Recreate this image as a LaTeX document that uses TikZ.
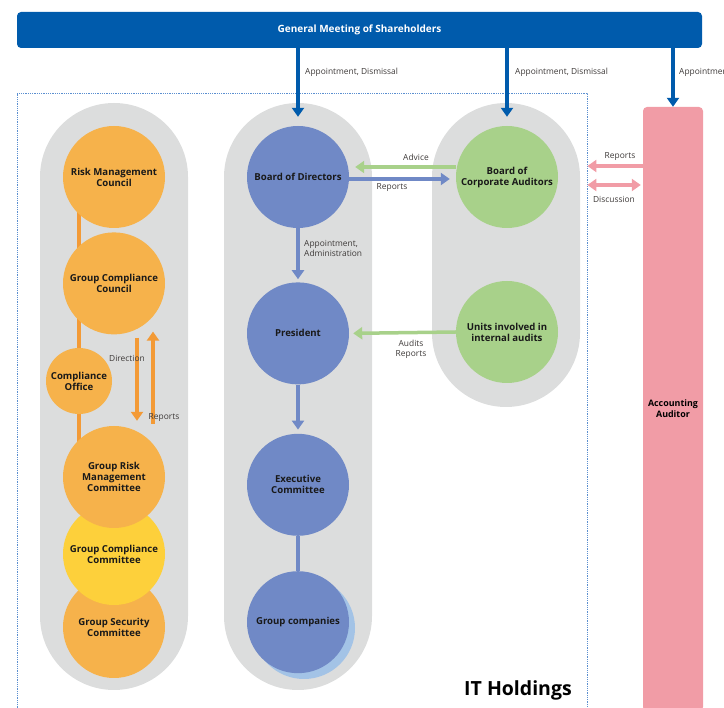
\documentclass[tikz,border=0pt]{standalone}
\usepackage{fontspec}
\setmainfont{Open Sans}
\usetikzlibrary{positioning,arrows.meta,backgrounds}
\definecolor{gmsblue}{HTML}{005BAC}
\definecolor{capgray}{HTML}{DCDDDD}
\definecolor{orgorange}{HTML}{F6B24B}
\definecolor{arrorange}{HTML}{F39A36}
\definecolor{orgyellow}{HTML}{FDD03B}
\definecolor{orgblue}{HTML}{7089C6}
\definecolor{shadeblue}{HTML}{A3C3E6}
\definecolor{orggreen}{HTML}{A8D18A}
\definecolor{orgpink}{HTML}{F19CA6}
\definecolor{framedot}{HTML}{5B8FD0}
\definecolor{labelgray}{HTML}{3E3A39}

\begin{document}
\begin{tikzpicture}
            [x=1pt, y=-1pt,
            every node/.style={inner sep=0pt},
            capsule/.style={fill=capgray, rounded corners=74pt},
            unit/.style={circle, minimum size=102pt, align=center, text=black!90,
                font=\fontsize{9.6}{11}\selectfont\bfseries},
            lbl/.style={text=labelgray, align=center, font=\fontsize{8.4}{10}\selectfont},
            toplbl/.style={lbl, anchor=west},
            tip/.style={-{Triangle[length=9pt, width=12pt]}},
            gmsarrow/.style={draw=gmsblue, line width=3.5pt, tip},
            bluearrow/.style={draw=orgblue, line width=3.5pt, tip},
            greenarrow/.style={draw=orggreen, line width=3.5pt, tip},
            pinkarrow/.style={draw=orgpink, line width=3.5pt, tip},
            orangearrow/.style={draw=arrorange, line width=3.5pt, tip}]
            \useasboundingbox (0,0) rectangle (724,708);
            \clip (0,0) rectangle (724,708);

            \begin{scope}[on background layer]
                \fill[capsule] (40,103) rectangle (188,690);
                \fill[capsule] (224,103) rectangle (372,690);
                \fill[capsule] (432,103) rectangle (580,407);
            \end{scope}

            \node [rounded corners=4pt, fill=gmsblue, minimum width=685pt, minimum height=36pt,
                text=white, font=\fontsize{10}{12}\selectfont\bfseries] (gms) at (359.5,30)
                {General Meeting of Shareholders};
            \node [draw=framedot, densely dotted, line width=0.8pt, minimum width=570pt,
                minimum height=627pt] (itframe) at (302,406.5) {};
            \node [font=\fontsize{19.5}{22}\selectfont\bfseries] (ith) at (518,690) {IT Holdings};

            % compliance and risk column
            \node [unit, fill=orgorange] (rmc) at (114,177) {Risk Management\\Council};
            \node [unit, fill=orgorange, below=4pt of rmc] (gcc) {Group Compliance\\Council};
            \node [unit, fill=orgorange, minimum size=66pt] (co) at (79,381) {Compliance\\Office};
            \node [unit, fill=orgorange] (gsc) at (114,627) {Group Security\\Committee};
            \node [unit, fill=orgyellow] (gccm) at (114,554) {Group Compliance\\Committee};
            \node [unit, fill=orgorange] (grmc) at (114,477) {Group Risk\\Management\\Committee};

            % executive column
            \node [unit, fill=orgblue] (bod) at (298,177) {Board of Directors};
            \node [unit, fill=orgblue, below=54pt of bod] (pres) {President};
            \node [unit, fill=orgblue, below=49pt of pres] (exec) {Executive\\Committee};
            \node [unit, fill=shadeblue] (gcshadow) at (304,628) {};
            \node [unit, fill=orgblue, below=35pt of exec] (gc) {Group companies};

            % audit column
            \node [unit, fill=orggreen] (bca) at (507,177) {Board of\\Corporate Auditors};
            \node [unit, fill=orggreen] (uia) at (507,332) {Units involved in\\internal audits};

            \node [rounded corners=4pt, fill=orgpink, minimum width=60pt, minimum height=604pt,
                align=center, font=\fontsize{8.9}{11}\selectfont\bfseries] (acc) at (673,409)
                {Accounting\\Auditor};

            \begin{scope}[on background layer]
                \draw [draw=arrorange, line width=3.5pt] (rmc.center -| co) -- (grmc.center -| co);
            \end{scope}

            \draw [gmsarrow, shorten >=9pt] (gms.south -| bod) -- (bod.north);
            \draw [gmsarrow, shorten >=9pt] (gms.south -| bca) -- (bca.north);
            \draw [gmsarrow] (gms.south -| acc) -- (acc.north);
            \node [toplbl] (lblgms1) at (305,72) {Appointment, Dismissal};
            \node [toplbl] (lblgms2) at (515,72) {Appointment, Dismissal};
            \node [toplbl] (lblgms3) at (679,72) {Appointment, Dismissal};

            \draw [bluearrow, shorten >=3pt] (bod) -- (pres);
            \node [lbl, anchor=west, align=left] (lblappt) at (304,248) {Appointment,\\Administration};
            \draw [bluearrow, shorten >=4pt] (pres) -- (exec);
            \draw [draw=orgblue, line width=3.5pt] (exec.south) -- (gc.north);

            \draw [greenarrow, shorten >=6pt] ([yshift=10pt]bca.west) -- ([yshift=10pt]bod.east);
            \node [lbl] (lbladv) at (416,157) {Advice};
            \draw [bluearrow, shorten >=6pt] ([yshift=-2pt]bod.east) -- ([yshift=-2pt]bca.west);
            \node [lbl] (lblrep1) at (392,188) {Reports};
            \draw [greenarrow, shorten >=4pt] (uia.west) -- (pres.east);
            \node [lbl] (lblaud) at (411,349) {Audits\\Reports};

            \draw [orangearrow, shorten <=3pt, shorten >=5pt] ([xshift=23pt]gcc.south) -- ([xshift=23pt]grmc.north);
            \draw [orangearrow, shorten <=2pt, shorten >=-3pt] ([xshift=39pt]grmc.north) -- ([xshift=39pt]gcc.south);
            \node [lbl] (lbldir) at (127,358) {Direction};
            \node [lbl] (lblrep2) at (164,418) {Reports};

            \draw [pinkarrow] (acc.west |- 0,166) -- (itframe.east |- 0,166);
            \node [lbl] (lblrep3) at (620,157) {Reports};
            \draw [pinkarrow, {Triangle[length=9pt, width=12pt]}-{Triangle[length=9pt, width=12pt]},
                shorten >=2pt] (itframe.east |- 0,185) -- (acc.west |- 0,185);
            \node [lbl] (lbldisc) at (614,199) {Discussion};
            \end{tikzpicture}
\end{document}
